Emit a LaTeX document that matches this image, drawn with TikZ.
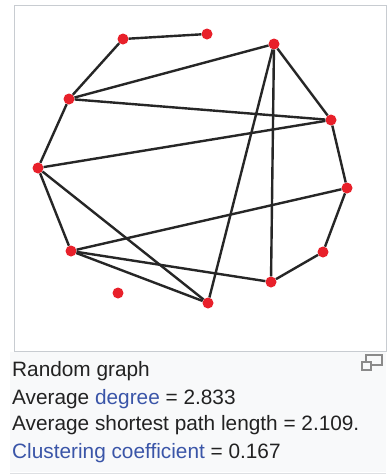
\documentclass[tikz,border=0pt]{standalone}
\usepackage{fontspec}
\setmainfont{Liberation Sans}
\usetikzlibrary{positioning}
\definecolor{rgNode}{HTML}{E8202A}
\definecolor{rgEdge}{HTML}{262626}
\definecolor{rgLink}{HTML}{3A55A8}
\definecolor{rgText}{HTML}{222222}
\definecolor{rgFrame}{HTML}{C8CCD1}
\definecolor{rgCaption}{HTML}{F8F9FA}
\definecolor{rgIcon}{HTML}{8A8A8A}
\tikzset{
  vertex/.style={circle, fill=rgNode, inner sep=0pt, minimum size=11pt},
  link/.style={line width=2.4pt, rgEdge},
  panel/.style={draw=rgFrame, line width=1pt, fill=white},
  capbox/.style={fill=rgCaption},
  capline/.style={anchor=base west, inner sep=0pt, text=rgText,
    font=\fontsize{20.8}{24}\selectfont},
  iconbox/.style={draw=rgIcon, line width=1.2pt}
}
\begin{document}
\begin{tikzpicture}[x=1pt, y=-1pt]
  \useasboundingbox (0,0) rectangle (386,474);
  % frame and caption background
  \fill[white] (0,0) rectangle (386,474);
  \draw[panel] (14,5) rectangle (386,351);
  \fill[capbox] (10,352) rectangle (386,472);
  \draw[rgFrame!60, line width=1pt] (10,473) -- (386,473);
  % vertices
  \node[vertex] (v1)  at (123,39)  {};
  \node[vertex] (v2)  at (207,34)  {};
  \node[vertex] (v3)  at (274,44)  {};
  \node[vertex] (v4)  at (69,99)   {};
  \node[vertex] (v5)  at (331,120) {};
  \node[vertex] (v6)  at (38,168)  {};
  \node[vertex] (v7)  at (347,188) {};
  \node[vertex] (v8)  at (71,251)  {};
  \node[vertex] (v9)  at (323,252) {};
  \node[vertex] (v10) at (271,282) {};
  \node[vertex] (v11) at (118,293) {};
  \node[vertex] (v12) at (208,303) {};
  % edges
  \draw[link] (v1) -- (v2);
  \draw[link] (v1) -- (v4);
  \draw[link] (v4) -- (v3);
  \draw[link] (v4) -- (v5);
  \draw[link] (v4) -- (v6);
  \draw[link] (v6) -- (v5);
  \draw[link] (v6) -- (v8);
  \draw[link] (v6) -- (v12);
  \draw[link] (v3) -- (v5);
  \draw[link] (v3) -- (v10);
  \draw[link] (v3) -- (v12);
  \draw[link] (v5) -- (v7);
  \draw[link] (v7) -- (v9);
  \draw[link] (v9) -- (v10);
  \draw[link] (v8) -- (v7);
  \draw[link] (v8) -- (v10);
  \draw[link] (v8) -- (v12);
  % caption
  \node[capline] (title)  at (12,376) {Random graph};
  \node[capline] (degree) at (12,404) {Average \textcolor{rgLink}{degree} = 2.833};
  \node[capline] (path)   at (12,430) {Average shortest path length = 2.109.};
  \node[capline] (clust)  at (12,458) {\textcolor{rgLink}{Clustering coefficient} = 0.167};
  % magnify icon
  \draw[iconbox, fill=rgCaption] (366,355) rectangle (382,365);
  \draw[iconbox, fill=rgCaption] (362,362) rectangle (371,370);
\end{tikzpicture}
\end{document}
